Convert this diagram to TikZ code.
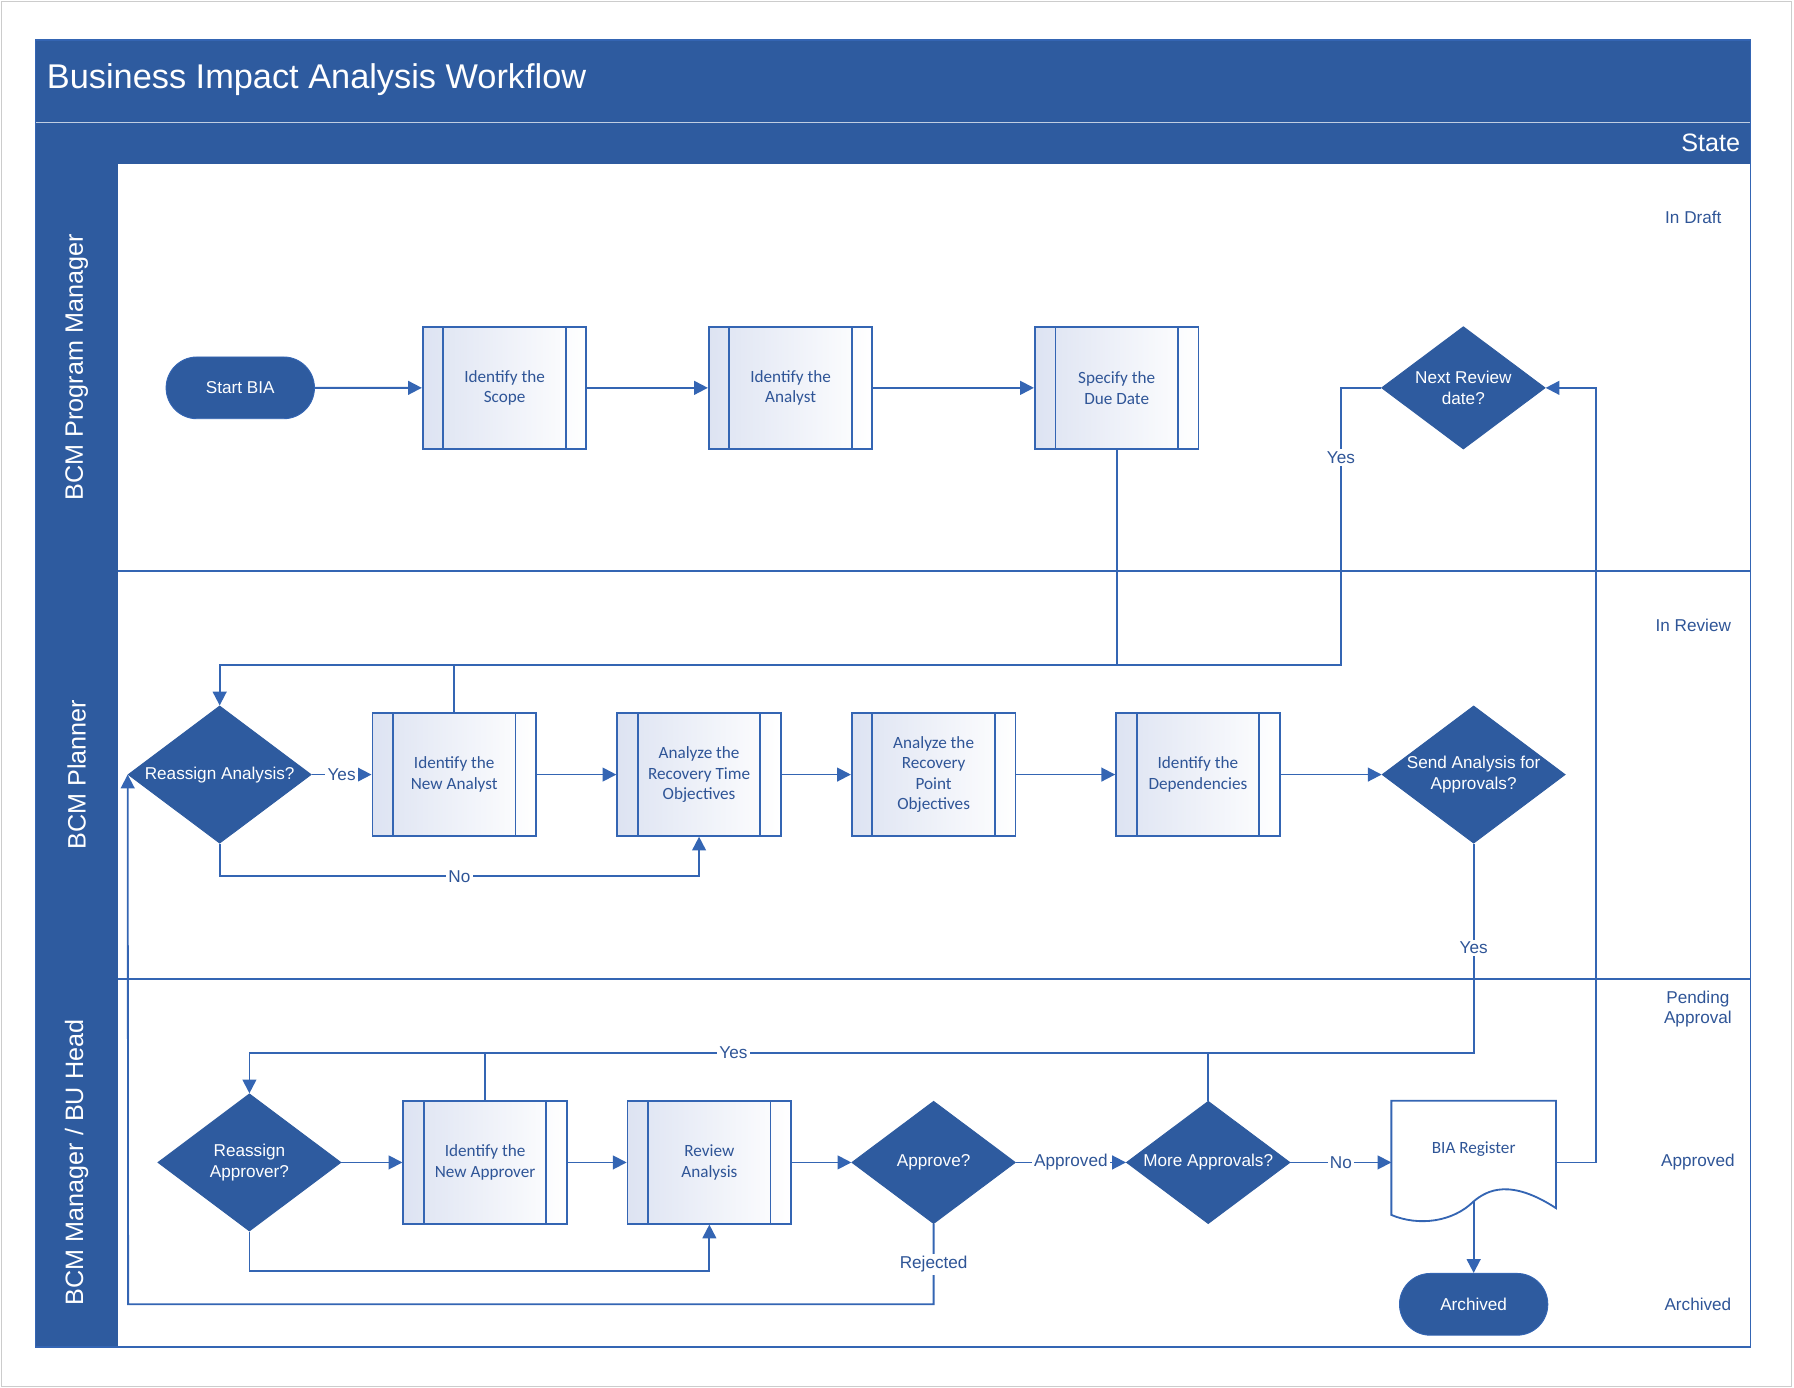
\documentclass[tikz,border=0pt]{standalone}
\usepackage{fontspec}
\setmainfont{Liberation Sans}
\newfontfamily\boxfont{Carlito}
\usetikzlibrary{shapes.geometric,arrows.meta,calc}
\definecolor{dk}{HTML}{2E5B9F}
\definecolor{ln}{HTML}{3465B3}
\definecolor{tx}{HTML}{2F5597}
\definecolor{sh}{HTML}{DDE3F2}
\begin{document}
\begin{tikzpicture}[x=0.5pt,y=-0.5pt,
  proc/.style={draw=ln,thick,minimum width=71.5pt,minimum height=53.5pt,align=center,
    text=tx,font=\boxfont\fontsize{7.5}{9}\selectfont,left color=sh,right color=white,
    path picture={\draw[ln,thick] ([xshift=9pt]path picture bounding box.north west)--([xshift=9pt]path picture bounding box.south west);
      \draw[ln,thick] ([xshift=-9pt]path picture bounding box.north east)--([xshift=-9pt]path picture bounding box.south east);}},
  dia/.style={diamond,aspect=1.34,fill=dk,draw=dk,text=white,align=center,inner sep=0pt,
    minimum width=71.5pt,minimum height=53.5pt,font=\fontsize{7.5}{9}\selectfont},
  bigdia/.style={dia,minimum width=80pt,minimum height=60pt},
  term/.style={rounded rectangle,fill=dk,draw=ln,text=white,minimum width=71.5pt,minimum height=27pt,font=\fontsize{7.5}{9}\selectfont},
  arr/.style={draw=ln,thick,-{Triangle[length=6pt,width=6pt]}},
  lin/.style={draw=ln,thick},
  lab/.style={fill=white,inner sep=1pt,text=tx,font=\fontsize{7.5}{9}\selectfont},
  st/.style={text=tx,align=center,font=\fontsize{7.5}{9}\selectfont},
  lane/.style={rotate=90,text=white,font=\fontsize{11}{13}\selectfont}]
\usetikzlibrary{shapes.misc}
\useasboundingbox (0,0) rectangle (1568,1213);
\draw[gray!40] (1,1) rectangle (1566,1212);
% frame
\fill[dk] (31,35) rectangle (1530,143);
\draw[white!70!dk,thin] (31,107)--(1530,107);
\fill[dk] (31,143) rectangle (103,1177);
\draw[ln,thick] (31,35) rectangle (1530,1177);
\draw[ln,thick] (103,499)--(1530,499);
\draw[ln,thick] (103,856)--(1530,856);
\node[anchor=west,text=white,font=\fontsize{15}{18}\selectfont] (title) at (34,70) {Business Impact Analysis Workflow};
\node[anchor=east,text=white,font=\fontsize{11}{13}\selectfont] (state) at (1528,125) {State};
\node[lane] (l1) at (67,321) {BCM Program Manager};
\node[lane] (l2) at (67,677) {BCM Planner};
\node[lane] (l3) at (67,1016) {BCM Manager / BU Head};
\node[st] (s1) at (1480,190) {In Draft};
\node[st] (s2) at (1480,547) {In Review};
\node[st] (s3) at (1484,882) {Pending\\Approval};
\node[st] (s4) at (1484,1016) {Approved};
\node[st] (s5) at (1484,1140) {Archived};
% lane 1
\node[term] (start) at (210,339) {Start BIA};
\node[proc] (scope) at (441,339) {Identify the\\Scope};
\node[proc] (analyst) at (691,339) {Identify the\\Analyst};
\node[proc] (due) at (976,339) {Specify the\\Due Date};
\node[dia] (next) at (1279,339) {Next Review\\date?};
% lane 2
\node[bigdia] (reasA) at (192,677) {Reassign Analysis?};
\node[proc] (newA) at (397,677) {Identify the\\New Analyst};
\node[proc] (rto) at (611,677) {Analyze the\\Recovery Time\\Objectives};
\node[proc] (rpo) at (816,677) {Analyze the\\Recovery\\Point\\Objectives};
\node[proc] (dep) at (1047,677) {Identify the\\Dependencies};
\node[bigdia] (send) at (1288,677) {Send Analysis for\\Approvals?};
% lane 3
\node[bigdia] (reasP) at (218,1016) {Reassign\\Approver?};
\node[proc] (newP) at (424,1016) {Identify the\\New Approver};
\node[proc] (rev) at (620,1016) {Review\\Analysis};
\node[dia] (appr) at (816,1016) {Approve?};
\node[dia] (more) at (1056,1016) {More Approvals?};
\node[minimum width=71.5pt,minimum height=53.5pt] (reg) at (1288,1016) {};
\fill[white,draw=ln,thick] (reg.north west) -- (reg.north east) -- ($(reg.south east)+(0,-14)$)
  .. controls (1320,1030) and (1300,1040) .. (1288,1050)
  .. controls (1270,1068) and (1240,1072) .. ($(reg.south west)+(0,-8)$) -- cycle;
\node[text=tx,font=\boxfont\fontsize{7.5}{9}\selectfont] (regt) at (1288,1004) {BIA Register};
\node[term] (arch) at (1288,1140) {Archived};
% edges
\draw[arr] (start)--(scope);
\draw[arr] (scope)--(analyst);
\draw[arr] (analyst)--(due);
\coordinate (j1) at (976,581);
\draw[arr] (due.south)--(j1)--(192,581)--(reasA.north);
\draw[lin] (next.west)--(1172,339)--(1172,581)--(j1);
\node[lab] (y1) at (1172,400) {Yes};
\draw[lin] (newA.north)--(397,581);
\draw[arr] (reasA)--node[lab]{Yes}(newA);
\draw[arr] (newA)--(rto);
\draw[arr] (rto)--(rpo);
\draw[arr] (rpo)--(dep);
\draw[arr] (dep)--(send);
\draw[arr] (reasA.south)--(192,766)--node[lab,pos=0.5]{No}(611,766)--(rto.south);
\coordinate (j2) at (1288,920);
\draw[arr] (send.south)--node[lab,pos=0.5]{Yes}(j2)--(218,920)--(reasP.north);
\node[lab] (y3) at (641,920) {Yes};
\draw[lin] (newP.north)--(424,920);
\draw[lin] (more.north)--(1056,920);
\draw[arr] (reasP)--(newP);
\draw[arr] (newP)--(rev);
\draw[arr] (rev)--(appr);
\draw[arr] (appr)--node[lab]{Approved}(more);
\draw[arr] (more)--node[lab]{No}(reg);
\draw[arr] (reasP.south)--(218,1111)--(620,1111)--(rev.south);
\draw[arr] (appr.south)--node[lab,pos=0.5]{Rejected}(816,1140)--(112,1140)--(reasA.west);
\draw[arr] (reg.east)--(1395,1016)--(1395,339)--(next.east);
\draw[arr] (1288,1050)--(arch.north);
\end{tikzpicture}
\end{document}
